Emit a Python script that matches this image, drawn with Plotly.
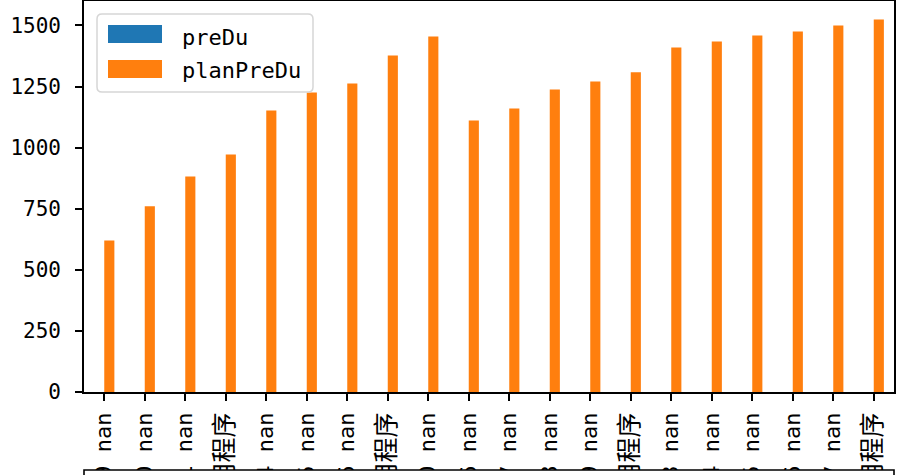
import plotly.graph_objects as go

# ---- data ----
tick_labels = ["9 nan", "0 nan", "1 nan", "应用程序", "4 nan", "5 nan", "6 nan", "应用程序",
               "0 nan", "6 nan", "7 nan", "8 nan", "9 nan", "应用程序", "3 nan", "4 nan",
               "5 nan", "6 nan", "7 nan", "应用程序"]
preDu = [None, None, None, None, None, None, None, None, None, None,
         None, None, None, None, None, None, None, None, None, None]
planPreDu = [620, 760, 882, 972, 1152, 1226, 1262, 1377, 1455, 1111,
             1160, 1238, 1271, 1308, 1410, 1434, 1459, 1475, 1500, 1524]
series_names = ["preDu", "planPreDu"]
y_ticks = [0, 250, 500, 750, 1000, 1250, 1500]

BLUE = "#1f77b4"
ORANGE = "#ff7f0e"
MONO = "DejaVu Sans Mono, Noto Sans CJK SC"

W, H = 897, 475
L, R, T, B = 84, 3, 1, 83
PW, PH = W - L - R, H - T - B

def px_x(px):
    return (px - L) / PW

def px_y(py):
    return (H - B - py) / PH

xs = list(range(len(planPreDu)))
ticktext = []
for lab in tick_labels:
    if "程序" in lab:
        ticktext.append("<span style='font-size:25px'>" + lab + "</span>")
    else:
        ticktext.append(lab)

fig = go.Figure()
fig.add_trace(go.Bar(x=xs, y=preDu, name=series_names[0], marker_color=BLUE,
                     marker_line_width=0, showlegend=False))
fig.add_trace(go.Bar(x=xs, y=planPreDu, name=series_names[1], marker_color=ORANGE,
                     marker_line_width=0, showlegend=False))

axis_common = dict(showline=True, linecolor="black", linewidth=1.6, mirror=True,
                   ticks="outside", ticklen=7, tickwidth=1.5, tickcolor="black",
                   showgrid=False, zeroline=False, automargin=False)

fig.update_xaxes(range=[-0.5, len(xs) - 0.5], tickmode="array", tickvals=xs,
                 ticktext=ticktext, tickangle=-90, ticklabelstandoff=3,
                 tickfont=dict(family=MONO, size=22, color="black"),
                 **axis_common)
fig.update_yaxes(range=[0, 1600], tickmode="array", tickvals=y_ticks,
                 ticktext=[str(v) for v in y_ticks], ticklabelstandoff=10,
                 tickfont=dict(family=MONO, size=21, color="black"),
                 **axis_common)

shapes = []
# bottom (second axes) box covering the cut-off tick labels
shapes.append(dict(type="rect", xref="paper", yref="paper",
                   xsizemode="pixel", ysizemode="pixel", xanchor=0, yanchor=0,
                   x0=0, x1=PW, y0=-(470 - (H - B)), y1=-200,
                   fillcolor="white", line=dict(color="black", width=1.6), layer="above"))

# legend frame with rounded corners
lx0, lx1, ly0, ly1, r = 97, 313, 14, 92, 5
def P(x, y):
    return f"{px_x(x):.5f},{px_y(y):.5f}"
path = (f"M {P(lx0 + r, ly0)} L {P(lx1 - r, ly0)} Q {P(lx1, ly0)} {P(lx1, ly0 + r)} "
        f"L {P(lx1, ly1 - r)} Q {P(lx1, ly1)} {P(lx1 - r, ly1)} "
        f"L {P(lx0 + r, ly1)} Q {P(lx0, ly1)} {P(lx0, ly1 - r)} "
        f"L {P(lx0, ly0 + r)} Q {P(lx0, ly0)} {P(lx0 + r, ly0)} Z")
shapes.append(dict(type="path", xref="paper", yref="paper", path=path,
                   fillcolor="rgba(255,255,255,0.8)", line=dict(color="#d6d6d6", width=1.5),
                   layer="above"))
# legend patches
for (y0, y1, c) in [(25, 43, BLUE), (60, 78, ORANGE)]:
    shapes.append(dict(type="rect", xref="paper", yref="paper",
                       x0=px_x(108), x1=px_x(162), y0=px_y(y1), y1=px_y(y0),
                       fillcolor=c, line=dict(width=0), layer="above"))

annotations = []
for name, yc in [(series_names[0], 37), (series_names[1], 71)]:
    annotations.append(dict(text=name, xref="paper", yref="paper", x=px_x(180), y=px_y(yc),
                            xanchor="left", yanchor="middle", showarrow=False,
                            font=dict(family=MONO, size=22, color="black")))

fig.update_layout(width=W, height=H, margin=dict(l=L, r=R, t=T, b=B, pad=0, autoexpand=False),
                  barmode="group", bargap=0.5, bargroupgap=0,
                  plot_bgcolor="white", paper_bgcolor="white",
                  shapes=shapes, annotations=annotations, showlegend=False)

fig.write_html("out.html", config={"displayModeBar": False},
               post_script="document.body.style.margin='0';document.body.style.overflow='hidden';")
